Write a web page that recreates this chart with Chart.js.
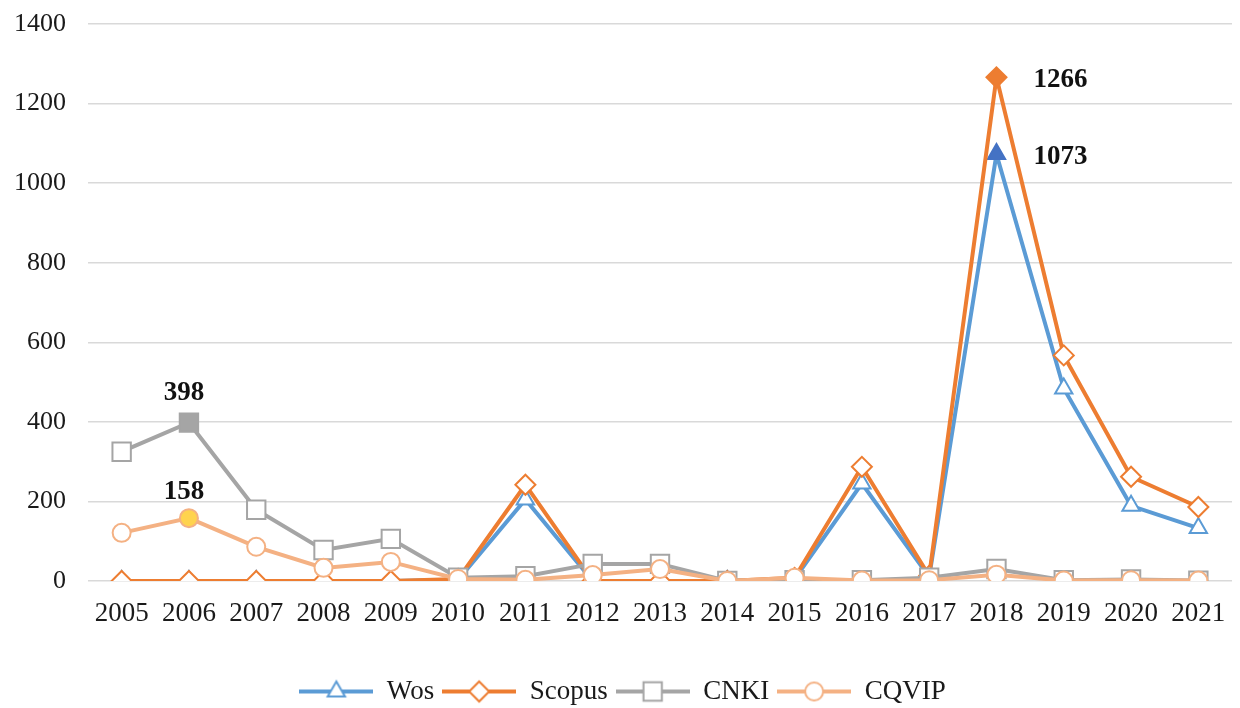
<!DOCTYPE html>
<html>
<head>
<meta charset="utf-8">
<script src="https://cdn.jsdelivr.net/npm/chart.js@4.4.1/dist/chart.umd.min.js"></script>
<style>
    html, body { margin: 0; padding: 0; background: #ffffff; }
    #wrap { width: 1240px; height: 708px; position: relative; }
</style>
</head>
<body>
<div id="wrap"><canvas id="pubChart"></canvas></div>
<script>
const years = ["2005", "2006", "2007", "2008", "2009", "2010", "2011", "2012", "2013",
    "2014", "2015", "2016", "2017", "2018", "2019", "2020", "2021"];
const wosCounts = [0, 0, 0, 0, 0, 3, 205, 0, 0, 0, 5, 245, 10, 1073, 484, 189, 133];
const scopusCounts = [0, 0, 0, 0, 0, 5, 242, 0, 0, 0, 8, 287, 13, 1266, 567, 262, 186];
const cnkiCounts = [325, 398, 179, 78, 106, 8, 12, 43, 43, 0, 2, 2, 8, 30, 2, 4, 1];
const cqvipCounts = [121, 158, 86, 33, 48, 5, 3, 15, 30, 0, 8, 1, 2, 16, 1, 2, 1];
const yTicks = [0, 200, 400, 600, 800, 1000, 1200, 1400];

// which point of each series gets its value written next to it
const labelled = [
    { series: 0, index: 13, side: "right" },
    { series: 1, index: 13, side: "right" },
    { series: 2, index: 1, side: "top" },
    { series: 3, index: 1, side: "top" },
];

const serif = "'Liberation Serif', 'Times New Roman', serif";

const styles = [
    { name: "Wos", color: "#5B9BD5", marker: "triangle", radius: 10, fill: "#4472C4" },
    { name: "Scopus", color: "#ED7D31", marker: "rectRot", radius: 10, fill: "#ED7D31" },
    { name: "CNKI", color: "#A5A5A5", marker: "rect", radius: 13, fill: "#A5A5A5" },
    { name: "CQVIP", color: "#F4B183", marker: "circle", radius: 9, fill: "#FFD34E" },
];
const seriesData = [wosCounts, scopusCounts, cnkiCounts, cqvipCounts];

function markerPath(ctx, type, x, y, r) {
    ctx.beginPath();
    if (type === "circle") {
        ctx.arc(x, y, r, 0, Math.PI * 2);
    } else if (type === "rect") {
        const s = r * Math.SQRT1_2;
        ctx.rect(x - s, y - s, 2 * s, 2 * s);
    } else if (type === "rectRot") {
        ctx.moveTo(x, y - r);
        ctx.lineTo(x + r, y);
        ctx.lineTo(x, y + r);
        ctx.lineTo(x - r, y);
    } else {
        const e = r * Math.sqrt(3);
        const h = e * Math.sqrt(3) / 2;
        ctx.moveTo(x - e / 2, y + h / 3);
        ctx.lineTo(x + e / 2, y + h / 3);
        ctx.lineTo(x, y - 2 * h / 3);
    }
    ctx.closePath();
}

// small line + marker swatch for the legend
function legendSwatch(st) {
    const c = document.createElement("canvas");
    c.width = 74;
    c.height = 26;
    const g = c.getContext("2d");
    g.strokeStyle = st.color;
    g.lineWidth = 4;
    g.beginPath();
    g.moveTo(0, 13);
    g.lineTo(74, 13);
    g.stroke();
    markerPath(g, st.marker, 37, 13, st.radius);
    g.fillStyle = "#ffffff";
    g.fill();
    g.lineWidth = 2;
    g.stroke();
    return c;
}
const swatches = styles.map(legendSwatch);

const datasets = styles.map((st, i) => {
    const hi = labelled.find((l) => l.series === i);
    return {
        label: st.name,
        data: seriesData[i],
        borderColor: st.color,
        borderWidth: 4,
        pointStyle: st.marker,
        pointRadius: st.radius,
        pointBorderWidth: 2,
        pointBorderColor: seriesData[i].map((v, k) =>
            hi && hi.index === k ? (i === 3 ? "#F4B183" : st.fill) : st.color),
        pointBackgroundColor: seriesData[i].map((v, k) =>
            hi && hi.index === k ? st.fill : "#ffffff"),
        order: 3 - i,
        tension: 0,
    };
});

const valueLabels = {
    id: "valueLabels",
    afterDatasetsDraw(chart) {
        const { ctx } = chart;
        ctx.save();
        ctx.font = "bold 27px " + serif;
        ctx.fillStyle = "#111111";
        ctx.textBaseline = "middle";
        labelled.forEach((l) => {
            const pt = chart.getDatasetMeta(l.series).data[l.index];
            const text = String(seriesData[l.series][l.index]);
            if (l.side === "right") {
                ctx.textAlign = "left";
                ctx.fillText(text, pt.x + 37, pt.y + 3);
            } else {
                ctx.textAlign = "center";
                ctx.fillText(text, pt.x - 5, pt.y - styles[l.series].radius - 17);
            }
        });
        ctx.restore();
    },
};

new Chart(document.getElementById("pubChart"), {
    type: "line",
    data: { labels: years, datasets: datasets },
    options: {
        responsive: true,
        maintainAspectRatio: false,
        animation: false,
        layout: { autoPadding: false, padding: { left: 13, right: 8, top: 24, bottom: -7 } },
        scales: {
            x: {
                offset: true,
                grid: { display: false, drawTicks: false },
                border: { display: false },
                ticks: {
                    color: "#1a1a1a",
                    font: { family: serif, size: 27 },
                    padding: 17,
                    maxRotation: 0,
                    autoSkip: false,
                },
                afterFit(scale) {
                    scale.height = 89;
                    scale.paddingLeft = 0;
                    scale.paddingRight = 0;
                },
            },
            y: {
                min: 0,
                max: 1400,
                afterBuildTicks(scale) {
                    scale.ticks = yTicks.map((v) => ({ value: v }));
                },
                afterFit(scale) {
                    scale.width = 75;
                    scale.paddingTop = 0;
                    scale.paddingBottom = 0;
                },
                border: { display: false },
                grid: { color: "#D9D9D9", lineWidth: 1.5, drawTicks: false },
                ticks: {
                    color: "#1a1a1a",
                    font: { family: serif, size: 26 },
                    padding: 22,
                    callback: (v) => String(v),
                },
            },
        },
        plugins: {
            tooltip: { enabled: false },
            legend: {
                position: "bottom",
                labels: {
                    color: "#1a1a1a",
                    font: { family: serif, size: 27 },
                    usePointStyle: true,
                    pointStyleWidth: 74,
                    boxHeight: 26,
                    padding: 8,
                    generateLabels: () => styles.map((st, i) => ({
                        text: st.name,
                        pointStyle: swatches[i],
                        fillStyle: st.color,
                        strokeStyle: st.color,
                        fontColor: "#1a1a1a",
                        lineWidth: 0,
                        datasetIndex: i,
                        hidden: false,
                    })),
                },
            },
        },
    },
    plugins: [valueLabels],
});
</script>
</body>
</html>
